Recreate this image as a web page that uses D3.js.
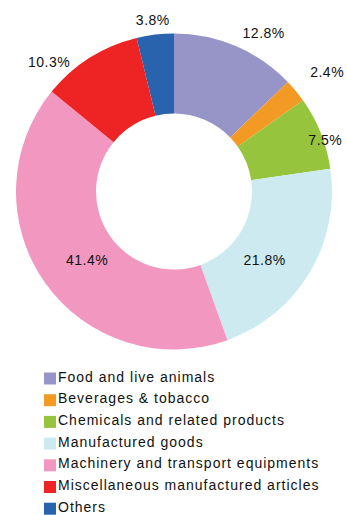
<!DOCTYPE html>
<html>
<head>
<meta charset="utf-8">
<script src="https://cdn.jsdelivr.net/npm/d3@7"></script>
<style>
  html, body { margin: 0; padding: 0; background: #fff; }
  svg { display: block; }
</style>
</head>
<body>
<div id="chart"></div>
<script>
// data
var categories = [
    "Food and live animals",
    "Beverages & tobacco",
    "Chemicals and related products",
    "Manufactured goods",
    "Machinery and transport equipments",
    "Miscellaneous manufactured articles",
    "Others"
];
var shares = [12.8, 2.4, 7.5, 21.8, 41.4, 10.3, 3.8];
var colors = ["#9794c8", "#f39a25", "#97c43d", "#cdeaf0", "#f298c0", "#ee2424", "#2a63ad"];

// label placement (Excel-style nudges)
var labelOutside = [true, true, true, false, false, true, true];
var labelNudge = [[20, 5], [16, -6], [-14, 14], [-8, 9], [7, 2], [-30, 21], [0, 5]];

var width = 347, height = 515;
var cx = 174, cy = 191.5;
var outerR = 158, innerR = 78;

var svg = d3.select("#chart").append("svg")
    .attr("width", width)
    .attr("height", height);

var pie = d3.pie().sort(null).value(d => d.value);
var rows = categories.map((c, i) => ({name: c, value: shares[i], i: i}));
var arcs = pie(rows);

var arc = d3.arc().innerRadius(innerR).outerRadius(outerR);
var g = svg.append("g").attr("transform", `translate(${cx},${cy})`);

g.selectAll("path")
    .data(arcs)
    .join("path")
        .attr("d", arc)
        .attr("fill", d => colors[d.data.i]);

var outArc = d3.arc().innerRadius(178).outerRadius(178);
var inArc = d3.arc().innerRadius(115).outerRadius(115);

g.selectAll("text.lbl")
    .data(arcs)
    .join("text")
        .attr("class", "lbl")
        .attr("transform", d => {
            var p = (labelOutside[d.data.i] ? outArc : inArc).centroid(d);
            var n = labelNudge[d.data.i];
            return `translate(${p[0] + n[0]},${p[1] + n[1]})`;
        })
        .attr("text-anchor", "middle")
        .attr("dy", "0.36em")
        .style("font", "14px 'Liberation Sans', Arial, sans-serif")
        .style("letter-spacing", "0.5px")
        .style("fill", "#111")
        .text(d => d.data.value.toFixed(1) + "%");

// legend
var legend = svg.append("g").attr("transform", "translate(44,376.5)");
var item = legend.selectAll("g")
    .data(categories)
    .join("g")
        .attr("transform", (d, i) => `translate(0,${i * 21.7})`);

item.append("rect")
    .attr("x", 0)
    .attr("y", -4)
    .attr("width", 12)
    .attr("height", 12)
    .attr("fill", (d, i) => colors[i]);

item.append("text")
    .attr("x", 14)
    .attr("y", 0)
    .attr("dy", "0.36em")
    .style("font", "14px 'Liberation Sans', Arial, sans-serif")
    .style("letter-spacing", "1px")
    .style("fill", "#111")
    .text(d => d);
</script>
</body>
</html>
